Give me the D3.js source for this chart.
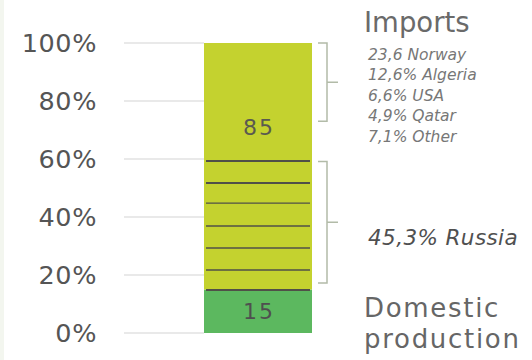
<!DOCTYPE html>
<html>
<head>
<meta charset="utf-8">
<script src="https://cdn.jsdelivr.net/npm/d3@7"></script>
<style>
  html, body { margin: 0; padding: 0; background: #ffffff; }
  svg { display: block; }
</style>
</head>
<body>
<svg id="chart" width="532" height="360"></svg>
<script>
// data
const categories = ['Gas supply'];
const domestic = [15];
const imports = [85];
const yTicks = [0, 20, 40, 60, 80, 100];
// thin dark dividers inside the Russia part of the bar (in %)
const russiaLines = [14.8, 21.7, 29.3, 36.9, 44.8, 51.7, 59.3];
const bracketRanges = [[73, 100], [17.2, 59.1]];
const importSources = ['23,6 Norway', '12,6% Algeria', '6,6% USA', '4,9% Qatar', '7,1% Other'];
const russiaLabel = '45,3% Russia';

const svg = d3.select('#chart');
const font = '"DejaVu Sans", Verdana, sans-serif';

// faint strip on the left edge
svg.append('rect')
    .attr('x', 0).attr('y', 0)
    .attr('width', 4).attr('height', 360)
    .attr('fill', '#f3f6ef');

const y = d3.scaleLinear().domain([0, 100]).range([333, 43]);
const x = d3.scaleBand().domain(categories).range([204, 312]).padding(0);

// gridlines
svg.append('g')
    .selectAll('line')
    .data(yTicks)
    .enter()
    .append('line')
    .attr('x1', 124)
    .attr('x2', x.range()[0])
    .attr('y1', d => y(d))
    .attr('y2', d => y(d))
    .attr('stroke', '#e2e2e2')
    .attr('stroke-width', 1.5);

// y axis labels
const yAxis = svg.append('g')
    .attr('transform', 'translate(108,0)')
    .call(d3.axisLeft(y).tickValues(yTicks).tickFormat(d => d + '%').tickSize(0).tickPadding(11));
yAxis.select('.domain').remove();
yAxis.selectAll('text')
    .style('font-family', font)
    .style('font-size', '25.5px')
    .style('letter-spacing', '0.6px')
    .style('fill', '#555555');

// bars
const stack = [
    { key: 'domestic', y0: 0, y1: domestic[0], color: '#5cb85f' },
    { key: 'imports', y0: domestic[0], y1: domestic[0] + imports[0], color: '#c4d22f' }
];

svg.append('g')
    .selectAll('rect')
    .data(stack)
    .enter()
    .append('rect')
    .attr('x', x(categories[0]))
    .attr('width', x.bandwidth())
    .attr('y', d => y(d.y1))
    .attr('height', d => y(d.y0) - y(d.y1))
    .attr('fill', d => d.color);

// dividers
svg.append('g')
    .selectAll('line')
    .data(russiaLines)
    .enter()
    .append('line')
    .attr('x1', x(categories[0]) + 2)
    .attr('x2', x(categories[0]) + x.bandwidth() - 2)
    .attr('y1', d => y(d))
    .attr('y2', d => y(d))
    .attr('stroke', '#505048')
    .attr('stroke-width', (d, i) => (i === 0 || i >= 5) ? 2 : 1.4);

// value labels
const cx = x(categories[0]) + x.bandwidth() / 2;
svg.append('text')
    .attr('x', cx + 1)
    .attr('y', y(71))
    .attr('dy', '0.36em')
    .attr('text-anchor', 'middle')
    .style('font-family', font)
    .style('font-size', '22px')
    .style('letter-spacing', '2px')
    .style('fill', '#5a5a50')
    .text(imports[0]);

svg.append('text')
    .attr('x', cx + 1)
    .attr('y', y(domestic[0] / 2))
    .attr('dy', '0.36em')
    .attr('text-anchor', 'middle')
    .style('font-family', font)
    .style('font-size', '22px')
    .style('letter-spacing', '2px')
    .style('fill', '#4f4f4f')
    .text(domestic[0]);

// brackets
const bx = 327;
svg.append('g')
    .selectAll('path')
    .data(bracketRanges)
    .enter()
    .append('path')
    .attr('d', d => {
        const top = y(d[1]), bot = y(d[0]), mid = (top + bot) / 2;
        return `M${bx - 9},${top} H${bx} V${bot} H${bx - 9} M${bx},${mid} H${bx + 11}`;
    })
    .attr('fill', 'none')
    .attr('stroke', '#b2bba8')
    .attr('stroke-width', 1.5);

// right side text
svg.append('text')
    .attr('x', 364)
    .attr('y', 32)
    .style('font-family', font)
    .style('font-size', '27.5px')
    .style('fill', '#6a6a6a')
    .text('Imports');

svg.append('g')
    .selectAll('text')
    .data(importSources)
    .enter()
    .append('text')
    .attr('x', 368)
    .attr('y', (d, i) => 60 + i * 20.4)
    .style('font-family', font)
    .style('font-style', 'italic')
    .style('font-weight', 200)
    .style('font-size', '15.5px')
    .style('fill', '#777777')
    .text(d => d);

svg.append('text')
    .attr('x', 368)
    .attr('y', 245)
    .style('font-family', font)
    .style('font-style', 'italic')
    .style('font-weight', 200)
    .style('font-size', '21.5px')
    .style('letter-spacing', '0.4px')
    .style('fill', '#505050')
    .text(russiaLabel);

svg.append('text')
    .attr('x', 364)
    .attr('y', 317)
    .style('font-family', font)
    .style('font-size', '26px')
    .style('letter-spacing', '1.7px')
    .style('fill', '#666666')
    .text('Domestic');

svg.append('text')
    .attr('x', 364)
    .attr('y', 348)
    .style('font-family', font)
    .style('font-size', '26px')
    .style('letter-spacing', '1.7px')
    .style('fill', '#666666')
    .text('production');
</script>
</body>
</html>
